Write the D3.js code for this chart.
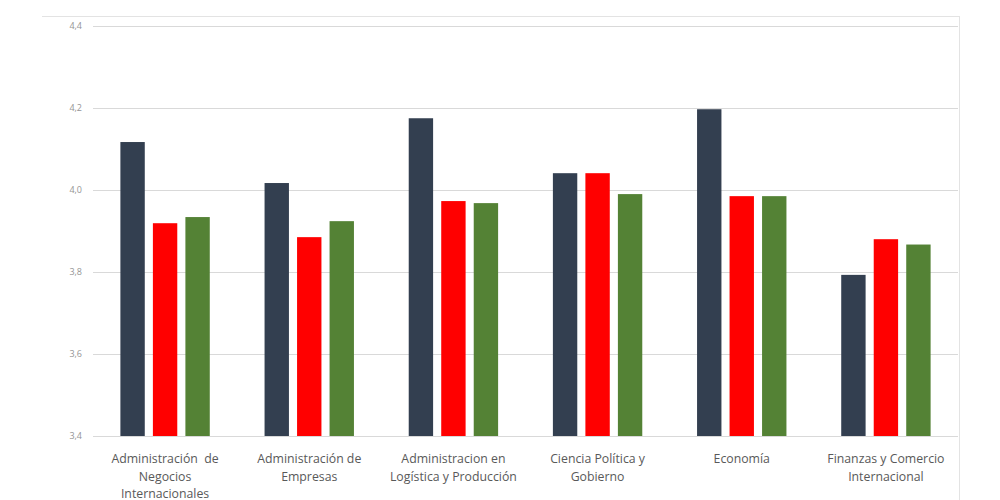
<!DOCTYPE html>
<html><head><meta charset="utf-8">
<script src="https://cdn.jsdelivr.net/npm/d3@7"></script>
<style>body{margin:0;background:#fff}svg{display:block}</style>
</head><body><svg id="c" width="1000" height="500"></svg>
<script>
const categories = [
  ["Administración  de","Negocios","Internacionales"],
  ["Administración de","Empresas"],
  ["Administracion en","Logística y Producción"],
  ["Ciencia Política y","Gobierno"],
  ["Economía"],
  ["Finanzas y Comercio","Internacional"]
];
const series1 = [4.117, 4.017, 4.175, 4.041, 4.197, 3.793];
const series2 = [3.919, 3.885, 3.973, 4.041, 3.985, 3.880];
const series3 = [3.934, 3.924, 3.968, 3.990, 3.985, 3.867];
const yTicks = [3.4, 3.6, 3.8, 4.0, 4.2, 4.4];
const colors = ["#333F50", "#FF0000", "#548235"];

(function(){
const svg = d3.select("#c");
const pLeft = 93, pRight = 958, pTop = 26, pBottom = 436;
const y = d3.scaleLinear().domain([3.4, 4.4]).range([pBottom, pTop]);
const x0 = d3.scaleBand().domain(d3.range(categories.length)).range([pLeft, pRight]).paddingInner(0.38).paddingOuter(0.19);
const x1 = d3.scaleBand().domain([0,1,2]).range([0, x0.bandwidth()]).paddingInner(0.25);

// frame
svg.append("line").attr("x1",42).attr("x2",960).attr("y1",16.5).attr("y2",16.5).attr("stroke","#e3e3e3");
svg.append("line").attr("x1",959.5).attr("x2",959.5).attr("y1",16).attr("y2",500).attr("stroke","#e3e3e3");

// grid + y axis
const yAxis = d3.axisLeft(y).tickValues(yTicks).tickSize(-(pRight-pLeft)).tickFormat(d => d3.format(".1f")(d).replace(".", ","));
const g = svg.append("g").attr("transform", `translate(${pLeft},0)`).call(yAxis);
g.select(".domain").remove();
g.selectAll(".tick line").attr("stroke","#d9d9d9");
g.selectAll(".tick text").attr("x",-11).attr("fill","#959595").style("font-family","'Open Sans', sans-serif").style("font-size","9px");

// bars
const data = categories.map((c,i)=>[series1[i],series2[i],series3[i]]);
const grp = svg.append("g").selectAll("g").data(data).join("g").attr("transform",(d,i)=>`translate(${x0(i)},0)`);
grp.selectAll("rect").data(d=>d).join("rect")
  .attr("x",(d,j)=>x1(j)).attr("width",x1.bandwidth())
  .attr("y",d=>y(d)).attr("height",d=>pBottom-y(d))
  .attr("fill",(d,j)=>colors[j]);

// x labels
const xl = svg.append("g").selectAll("text").data(categories).join("text")
  .attr("x",(d,i)=>x0(i)+x0.bandwidth()/2).attr("y",463)
  .attr("text-anchor","middle").attr("fill","#595959")
  .style("white-space","pre")
  .style("font-family","'Open Sans', sans-serif").style("font-size","12.3px");
xl.each(function(d){
  const t = d3.select(this);
  d.forEach((line,k)=>t.append("tspan").attr("x",t.attr("x")).attr("dy",k?17.5:0).text(line));
});
})();
</script></body></html>
